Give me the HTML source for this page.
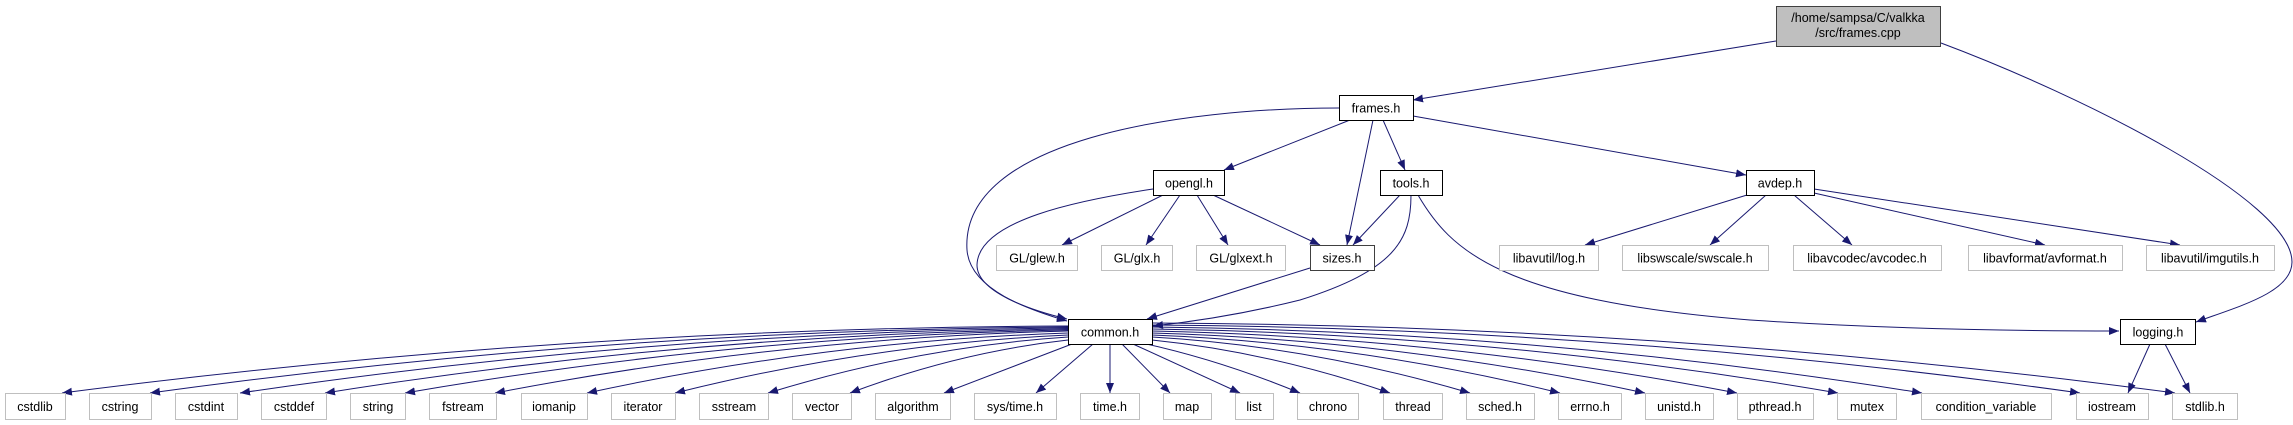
<!DOCTYPE html>
<html><head><meta charset="utf-8"><style>
html,body{margin:0;padding:0;background:#fff;}
svg{display:block;}
text{font-family:"Liberation Sans",Arial,sans-serif;font-size:12.5px;fill:#000;text-anchor:middle;}
.e{fill:none;stroke:#191970;stroke-width:1;marker-end:url(#a);}
.g{fill:#fff;stroke:#bfbfbf;stroke-width:1;}
.b{fill:#fff;stroke:#000;stroke-width:1;}
</style></head><body>
<svg width="2293" height="425" viewBox="0 0 2293 425" xmlns="http://www.w3.org/2000/svg">
<defs><marker id="a" markerUnits="userSpaceOnUse" markerWidth="12" markerHeight="10" refX="10" refY="4" orient="auto"><path d="M0,0 L10,4 L0,8 Z" fill="#191970"/></marker></defs>

<!-- edges -->
<path class="e" d="M1776,41 L1413,100"/>
<path class="e" d="M1941,43 C2080,95 2292,200 2292,262 C2292,292 2240,306 2196,322"/>
<path class="e" d="M1339,108 C1180,108 960,140 967,250 C970,290 1030,310 1067,321"/>
<path class="e" d="M1153,189 C1080,200 978,220 977,265 C977,292 1030,310 1067,319"/>
<path class="e" d="M1350,120 L1224,170"/>
<path class="e" d="M1373,120 L1347,245"/>
<path class="e" d="M1383,120 L1405,170"/>
<path class="e" d="M1413,116 L1746,175"/>
<path class="e" d="M1163,195 L1062,245"/>
<path class="e" d="M1180,195 L1146,245"/>
<path class="e" d="M1197,195 L1228,245"/>
<path class="e" d="M1213,195 L1320,245"/>
<path class="e" d="M1400,195 L1353,245"/>
<path class="e" d="M1411,195 C1411,240 1395,270 1300,300 C1240,315 1190,322 1153,326"/>
<path class="e" d="M1418,195 C1450,250 1500,300 1750,320 C1900,330 2050,331 2119,331"/>
<path class="e" d="M1310,268 L1147,319"/>
<path class="e" d="M1747,195 L1585,245"/>
<path class="e" d="M1766,195 L1710,245"/>
<path class="e" d="M1794,195 L1852,245"/>
<path class="e" d="M1814,193 L2045,245"/>
<path class="e" d="M1814,189 L2180,245"/>
<path class="e" d="M2150,344 L2128,393"/>
<path class="e" d="M2165,344 L2190,393"/>

<path class="e" d="M1068,326 Q565,328 62,393"/>
<path class="e" d="M1068,327 Q609,330 150,393"/>
<path class="e" d="M1068,328 Q654,332 240,393"/>
<path class="e" d="M1068,329 Q696,334 325,393"/>
<path class="e" d="M1068,330 Q736,336 405,393"/>
<path class="e" d="M1068,331 Q781,338 495,393"/>
<path class="e" d="M1068,333 Q827,341 587,393"/>
<path class="e" d="M1068,335 Q871,344 675,393"/>
<path class="e" d="M1068,337 Q918,347 768,393"/>
<path class="e" d="M1068,340 Q959,352 850,393"/>
<path class="e" d="M1072,344 L944,393"/>
<path class="e" d="M1093,344 L1036,393"/>
<path class="e" d="M1110,344 L1110,393"/>
<path class="e" d="M1122,344 L1170,393"/>
<path class="e" d="M1133,344 L1240,393"/>
<path class="e" d="M1142,343 Q1220,360 1300,393"/>
<path class="e" d="M1152,340 Q1270,352 1390,393"/>
<path class="e" d="M1152,337 Q1310,346 1470,393"/>
<path class="e" d="M1152,335 Q1356,343 1560,393"/>
<path class="e" d="M1152,333 Q1398,340 1645,393"/>
<path class="e" d="M1152,331 Q1444,337 1737,393"/>
<path class="e" d="M1152,329 Q1495,334 1838,393"/>
<path class="e" d="M1152,327 Q1537,331 1922,393"/>
<path class="e" d="M1152,325 Q1616,328 2080,393"/>
<path class="e" d="M1152,323 Q1663,325 2175,393"/>

<!-- nodes -->
<rect x="1776.5" y="6.5" width="164" height="40" fill="#bfbfbf" stroke="#404040"/>
<text x="1858" y="22">/home/sampsa/C/valkka</text>
<text x="1858" y="37">/src/frames.cpp</text>

<rect class="b" x="1339.5" y="95.5" width="74" height="25"/><text x="1376" y="112.5">frames.h</text>
<rect class="b" x="1153.5" y="170.5" width="71" height="25"/><text x="1189" y="187.5">opengl.h</text>
<rect class="b" x="1380.5" y="170.5" width="62" height="25"/><text x="1411" y="187.5">tools.h</text>
<rect class="b" x="1746.5" y="170.5" width="68" height="25"/><text x="1780" y="187.5">avdep.h</text>

<rect class="g" x="996.5" y="245.5" width="81" height="25"/><text x="1037" y="262.5">GL/glew.h</text>
<rect class="g" x="1101.5" y="245.5" width="71" height="25"/><text x="1137" y="262.5">GL/glx.h</text>
<rect class="g" x="1196.5" y="245.5" width="89" height="25"/><text x="1241" y="262.5">GL/glxext.h</text>
<rect x="1310.5" y="245.5" width="64" height="25" fill="#fff" stroke="#404040"/><text x="1342" y="262.5">sizes.h</text>
<rect class="g" x="1499.5" y="245.5" width="99" height="25"/><text x="1549" y="262.5">libavutil/log.h</text>
<rect class="g" x="1622.5" y="245.5" width="146" height="25"/><text x="1695" y="262.5">libswscale/swscale.h</text>
<rect class="g" x="1793.5" y="245.5" width="148" height="25"/><text x="1867" y="262.5">libavcodec/avcodec.h</text>
<rect class="g" x="1968.5" y="245.5" width="154" height="25"/><text x="2045" y="262.5">libavformat/avformat.h</text>
<rect class="g" x="2146.5" y="245.5" width="128" height="25"/><text x="2210" y="262.5">libavutil/imgutils.h</text>

<rect class="b" x="1068.5" y="319.5" width="84" height="25"/><text x="1110" y="336.5">common.h</text>
<rect class="b" x="2120.5" y="319.5" width="75" height="25"/><text x="2158" y="336.5">logging.h</text>

<g>
<rect class="g" x="5.5" y="393.5" width="60" height="26"/><text x="35" y="411">cstdlib</text>
<rect class="g" x="89.5" y="393.5" width="62" height="26"/><text x="120" y="411">cstring</text>
<rect class="g" x="175.5" y="393.5" width="62" height="26"/><text x="206" y="411">cstdint</text>
<rect class="g" x="261.5" y="393.5" width="65" height="26"/><text x="294" y="411">cstddef</text>
<rect class="g" x="350.5" y="393.5" width="55" height="26"/><text x="378" y="411">string</text>
<rect class="g" x="429.5" y="393.5" width="67" height="26"/><text x="463" y="411">fstream</text>
<rect class="g" x="521.5" y="393.5" width="66" height="26"/><text x="554" y="411">iomanip</text>
<rect class="g" x="611.5" y="393.5" width="64" height="26"/><text x="643" y="411">iterator</text>
<rect class="g" x="699.5" y="393.5" width="69" height="26"/><text x="734" y="411">sstream</text>
<rect class="g" x="792.5" y="393.5" width="59" height="26"/><text x="822" y="411">vector</text>
<rect class="g" x="875.5" y="393.5" width="75" height="26"/><text x="913" y="411">algorithm</text>
<rect class="g" x="974.5" y="393.5" width="82" height="26"/><text x="1015" y="411">sys/time.h</text>
<rect class="g" x="1080.5" y="393.5" width="59" height="26"/><text x="1110" y="411">time.h</text>
<rect class="g" x="1163.5" y="393.5" width="48" height="26"/><text x="1187" y="411">map</text>
<rect class="g" x="1235.5" y="393.5" width="38" height="26"/><text x="1254" y="411">list</text>
<rect class="g" x="1297.5" y="393.5" width="61" height="26"/><text x="1328" y="411">chrono</text>
<rect class="g" x="1383.5" y="393.5" width="59" height="26"/><text x="1413" y="411">thread</text>
<rect class="g" x="1466.5" y="393.5" width="68" height="26"/><text x="1500" y="411">sched.h</text>
<rect class="g" x="1558.5" y="393.5" width="63" height="26"/><text x="1590" y="411">errno.h</text>
<rect class="g" x="1645.5" y="393.5" width="68" height="26"/><text x="1679" y="411">unistd.h</text>
<rect class="g" x="1737.5" y="393.5" width="76" height="26"/><text x="1775" y="411">pthread.h</text>
<rect class="g" x="1837.5" y="393.5" width="59" height="26"/><text x="1867" y="411">mutex</text>
<rect class="g" x="1921.5" y="393.5" width="130" height="26"/><text x="1986" y="411">condition_variable</text>
<rect class="g" x="2076.5" y="393.5" width="72" height="26"/><text x="2112" y="411">iostream</text>
<rect class="g" x="2172.5" y="393.5" width="65" height="26"/><text x="2205" y="411">stdlib.h</text>
</g>
</svg>
</body></html>
